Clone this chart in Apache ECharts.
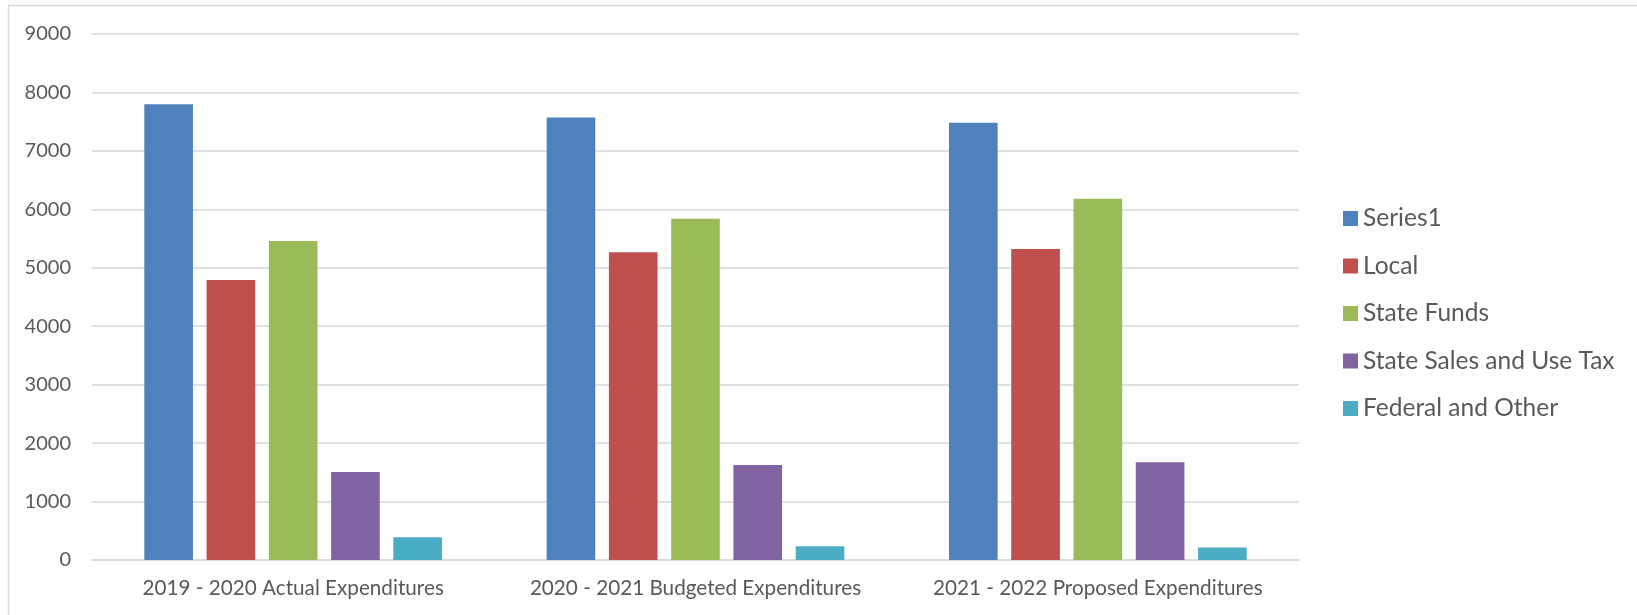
<!DOCTYPE html>
<html>
<head>
<meta charset="utf-8">
<script src="https://cdn.jsdelivr.net/npm/echarts@6/dist/echarts.min.js"></script>
<style>
html,body{margin:0;padding:0;background:#fff;}
#chart{width:1637px;height:615px;}
</style>
</head>
<body>
<div id="chart"></div>
<script>
const categories = ['2019 - 2020 Actual Expenditures', '2020 - 2021 Budgeted Expenditures', '2021 - 2022 Proposed Expenditures'];
const seriesNames = ['Series1', 'Local', 'State Funds', 'State Sales and Use Tax', 'Federal and Other'];
const series1 = [7800, 7570, 7480];
const local = [4790, 5265, 5320];
const stateFunds = [5460, 5840, 6180];
const stateSalesUseTax = [1505, 1625, 1672];
const federalOther = [390, 235, 216];
const yTicks = [0, 1000, 2000, 3000, 4000, 5000, 6000, 7000, 8000, 9000];
const colors = ['#4F81BD', '#C0504D', '#9BBB59', '#8064A2', '#4BACC6'];

const FONT = 'Lato';
const TXT = '#595959';
const values = [series1, local, stateFunds, stateSalesUseTax, federalOther];

const chart = echarts.init(document.getElementById('chart'), null, {renderer: 'canvas'});
chart.setOption({
  animation: false,
  backgroundColor: '#fff',
  color: colors,
  graphic: [{
    type: 'rect',
    shape: {x: 8.5, y: 5.5, width: 1700, height: 700},
    style: {fill: 'none', stroke: '#D9D9D9', lineWidth: 1.5},
    silent: true, z: -1
  }],
  grid: {left: 92, right: 338, top: 34, bottom: 55, containLabel: false},
  legend: {
    orient: 'vertical',
    left: 1338,
    top: 201,
    itemWidth: 15,
    itemHeight: 15,
    itemGap: 22.5,
    icon: 'rect',
    textStyle: {fontFamily: FONT, fontSize: 24.5, color: TXT, lineHeight: 24},
    data: seriesNames
  },
  xAxis: {
    type: 'category',
    data: categories,
    axisLine: {show: true, lineStyle: {color: '#D9D9D9', width: 1.5}},
    axisTick: {show: false},
    axisLabel: {fontFamily: FONT, fontSize: 20.7, color: TXT, margin: 18, interval: 0}
  },
  yAxis: {
    type: 'value',
    min: yTicks[0],
    max: yTicks[yTicks.length - 1],
    interval: 1000,
    axisLine: {show: false},
    axisTick: {show: false},
    splitLine: {lineStyle: {color: '#D9D9D9', width: 1.5}},
    axisLabel: {fontFamily: FONT, fontSize: 20, color: TXT, margin: 21, formatter: v => String(v)}
  },
  series: seriesNames.map((n, i) => ({
    name: n,
    type: 'bar',
    data: values[i],
    barGap: '28%',
    barCategoryGap: '26%',
    itemStyle: {color: colors[i]}
  }))
});
</script>
</body>
</html>
